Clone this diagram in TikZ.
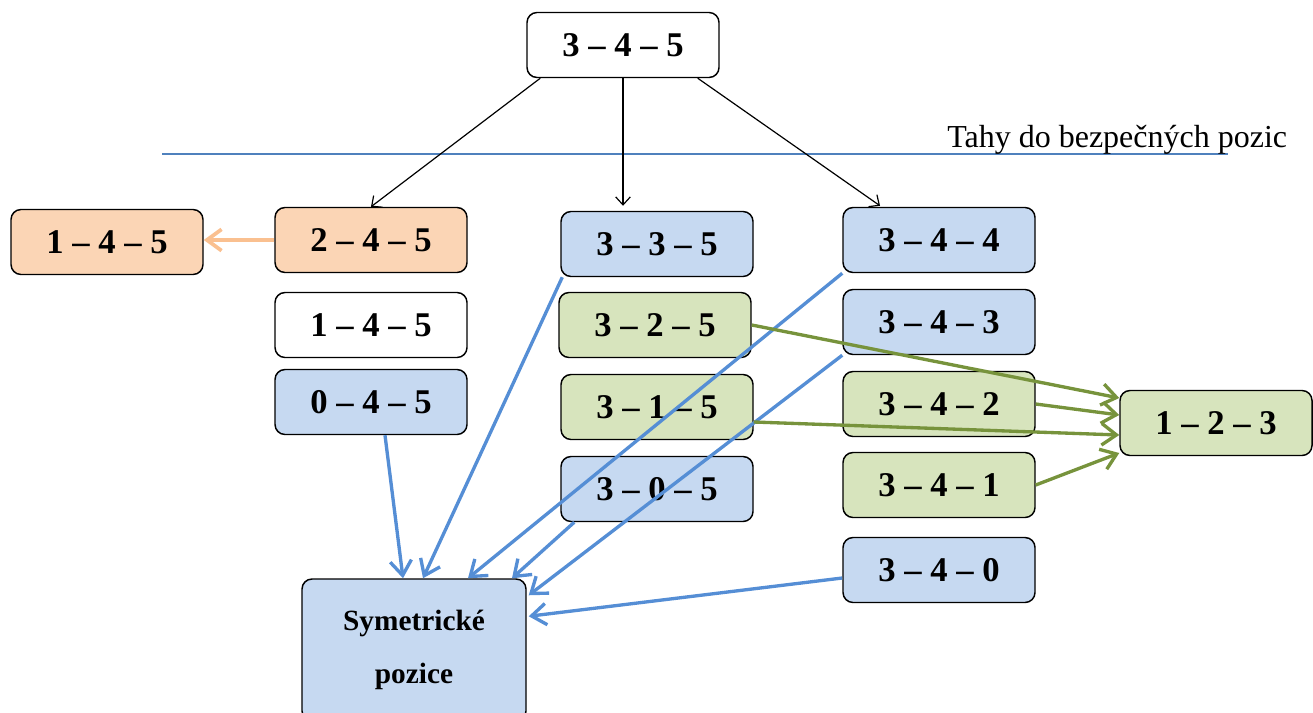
\documentclass[tikz,border=0pt]{standalone}
\usepackage{fontspec}
\setmainfont{Liberation Serif}
\usetikzlibrary{arrows.meta}

\definecolor{boxblue}{RGB}{198,217,241}
\definecolor{boxgreen}{RGB}{215,228,189}
\definecolor{boxorange}{RGB}{251,213,181}
\definecolor{lineblue}{RGB}{85,142,213}
\definecolor{linegreen}{RGB}{119,147,60}
\definecolor{lineorange}{RGB}{250,192,144}
\definecolor{ruleblue}{RGB}{79,129,189}

\tikzset{
    posbox/.style={draw, line width=1.1pt, rounded corners=7.5pt,
        minimum width=144pt, minimum height=48.75pt, inner sep=0pt,
        font=\fontsize{26}{30}\selectfont\bfseries},
    sympos/.style={posbox, fill=boxblue},
    winpos/.style={posbox, fill=boxgreen},
    movepos/.style={posbox, fill=boxorange},
    blk/.style={line width=0.9pt, -{Straight Barb[length=6pt,width=11pt]}},
    blu/.style={draw=lineblue, line width=2.5pt, -{Straight Barb[length=11pt,width=16pt]}},
    grn/.style={draw=linegreen, line width=2.5pt, -{Straight Barb[length=11pt,width=16pt]}},
    org/.style={draw=lineorange, line width=2.8pt, -{Straight Barb[length=11pt,width=16pt]}}
}

\begin{document}
\begin{tikzpicture}[x=0.75pt, y=-0.75pt]
    \useasboundingbox (0,0) rectangle (1313,713);
    % start position and the three first moves
    \node[posbox] (top) at (623,45) {3 – 4 – 5};
    \node[movepos] (b245) at (371,240) {2 – 4 – 5};
    \node[movepos] (b145) at (107,242) {1 – 4 – 5};
    \node[posbox] (w145) at (371,325) {1 – 4 – 5};
    \node[sympos] (b045) at (371,402) {0 – 4 – 5};
    \node[sympos] (b335) at (657,244) {3 – 3 – 5};
    \node[winpos] (g325) at (655,325) {3 – 2 – 5};
    \node[winpos] (g315) at (657,407) {3 – 1 – 5};
    \node[sympos] (b305) at (657,489) {3 – 0 – 5};
    \node[sympos] (b344) at (939,240) {3 – 4 – 4};
    \node[sympos] (b343) at (939,322) {3 – 4 – 3};
    \node[winpos] (g342) at (939,404) {3 – 4 – 2};
    \node[winpos] (g341) at (939,485) {3 – 4 – 1};
    \node[sympos] (b340) at (939,570) {3 – 4 – 0};
    \node[winpos] (g123) at (1216,423) {1 – 2 – 3};
    \node[sympos, minimum width=168pt, minimum height=106.5pt, align=center,
        font=\fontsize{22}{40}\selectfont\bfseries] (sym) at (414,650) {Symetrické\\pozice};

    % safe positions
    \coordinate (ruleL) at (162,154);
    \coordinate (ruleR) at (1228,154);
    \draw[ruleblue, line width=1.1pt] (ruleL) -- (ruleR);
    \node[anchor=base west, inner sep=0pt, font=\fontsize{24}{28}\selectfont] (safe)
        at (947,148) {Tahy do bezpečných pozic};

    \draw[blk] ([shift={(14,0)}]top.south west) -- (b245.north);
    \draw[blk] (top.south) -- ([shift={(-34,-5)}]b335.north);
    \draw[blk] ([shift={(-22,0)}]top.south east) -- ([shift={(-59,-1)}]b344.north);

    \draw[org] (b245.west) -- (b245.west -| b145.east);

    \draw[blu] ([shift={(14,0)}]b045.south) -- ([shift={(-11,0)}]sym.north);
    \draw[blu] ([shift={(2,0)}]b335.south west) -- ([shift={(9,0)}]sym.north);
    \draw[blu] (b344.south west) -- ([shift={(54,0)}]sym.north);
    \draw[blu] ([shift={(14,0)}]b305.south west) -- ([shift={(98,0)}]sym.north);
    \draw[blu] (b343.south west) -- ([shift={(2,17)}]sym.north east);
    \draw[blu] ([shift={(0,8)}]b340.west) -- ([shift={(2,38)}]sym.north east);

    \draw[grn] (g325.east) -- ([shift={(0,-25)}]g123.west);
    \draw[grn] (g342.east) -- ([shift={(0,-8)}]g123.west);
    \draw[grn] ([shift={(0,15)}]g315.east) -- ([shift={(0,12)}]g123.west);
    \draw[grn] (g341.east) -- ([shift={(0,30)}]g123.west);
\end{tikzpicture}
\end{document}
